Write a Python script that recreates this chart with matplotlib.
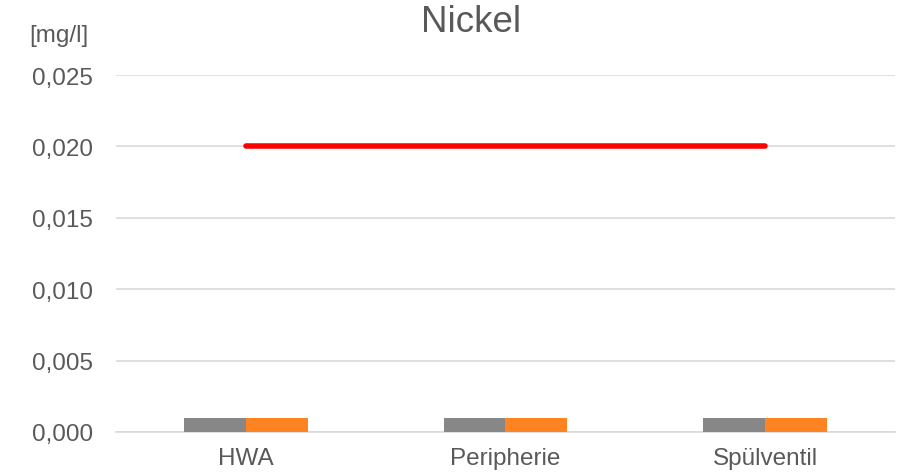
import matplotlib
matplotlib.use("Agg")
import matplotlib.pyplot as plt
import numpy as np

categories = ["HWA", "Peripherie", "Spülventil"]
series_gray = [0.001, 0.001, 0.001]
series_orange = [0.001, 0.001, 0.001]
limit_values = [0.02, 0.02, 0.02]
yticks = [0.0, 0.005, 0.010, 0.015, 0.020, 0.025]
ytick_labels = ["0,000", "0,005", "0,010", "0,015", "0,020", "0,025"]

plt.rcParams['font.family'] = ['Liberation Sans', 'DejaVu Sans']
txt = '#595959'

fig = plt.figure(figsize=(9.02, 4.77), dpi=100)
ax = fig.add_axes([116/902, (477-433)/477, (895-116)/902, (433-76)/477])

x = np.arange(len(categories))
w = 0.238
ax.bar(x - w/2, series_gray, width=w, color='#878787', zorder=3)
ax.bar(x + w/2, series_orange, width=w, color='#FF8421', zorder=3)
ax.plot(x, limit_values, color='#FF0000', lw=4, solid_capstyle='round', zorder=4)

ax.set_xlim(-0.5, 2.5)
ax.set_ylim(0, 0.025)
ax.set_yticks(yticks)
ax.set_yticklabels(ytick_labels)
ax.set_xticks(x)
ax.set_xticklabels(categories)
ax.grid(axis='y', color='#D9D9D9', lw=1.2, zorder=0)
for s in ['top', 'right', 'left']:
    ax.spines[s].set_visible(False)
ax.spines['bottom'].set_color('#D9D9D9')
ax.spines['bottom'].set_linewidth(1.2)
ax.tick_params(axis='both', length=0, labelsize=17.5, colors=txt)
ax.tick_params(axis='y', pad=16.5)
ax.tick_params(axis='x', pad=11)

fig.text(471/902, 1 - 23/477, "Nickel", ha='center', va='center', fontsize=26.5, color=txt)
fig.text(58.5/902, 1 - 36/477, "[mg/l]", ha='center', va='center', fontsize=17.5, color=txt)

fig.savefig("out.png", dpi=100)
